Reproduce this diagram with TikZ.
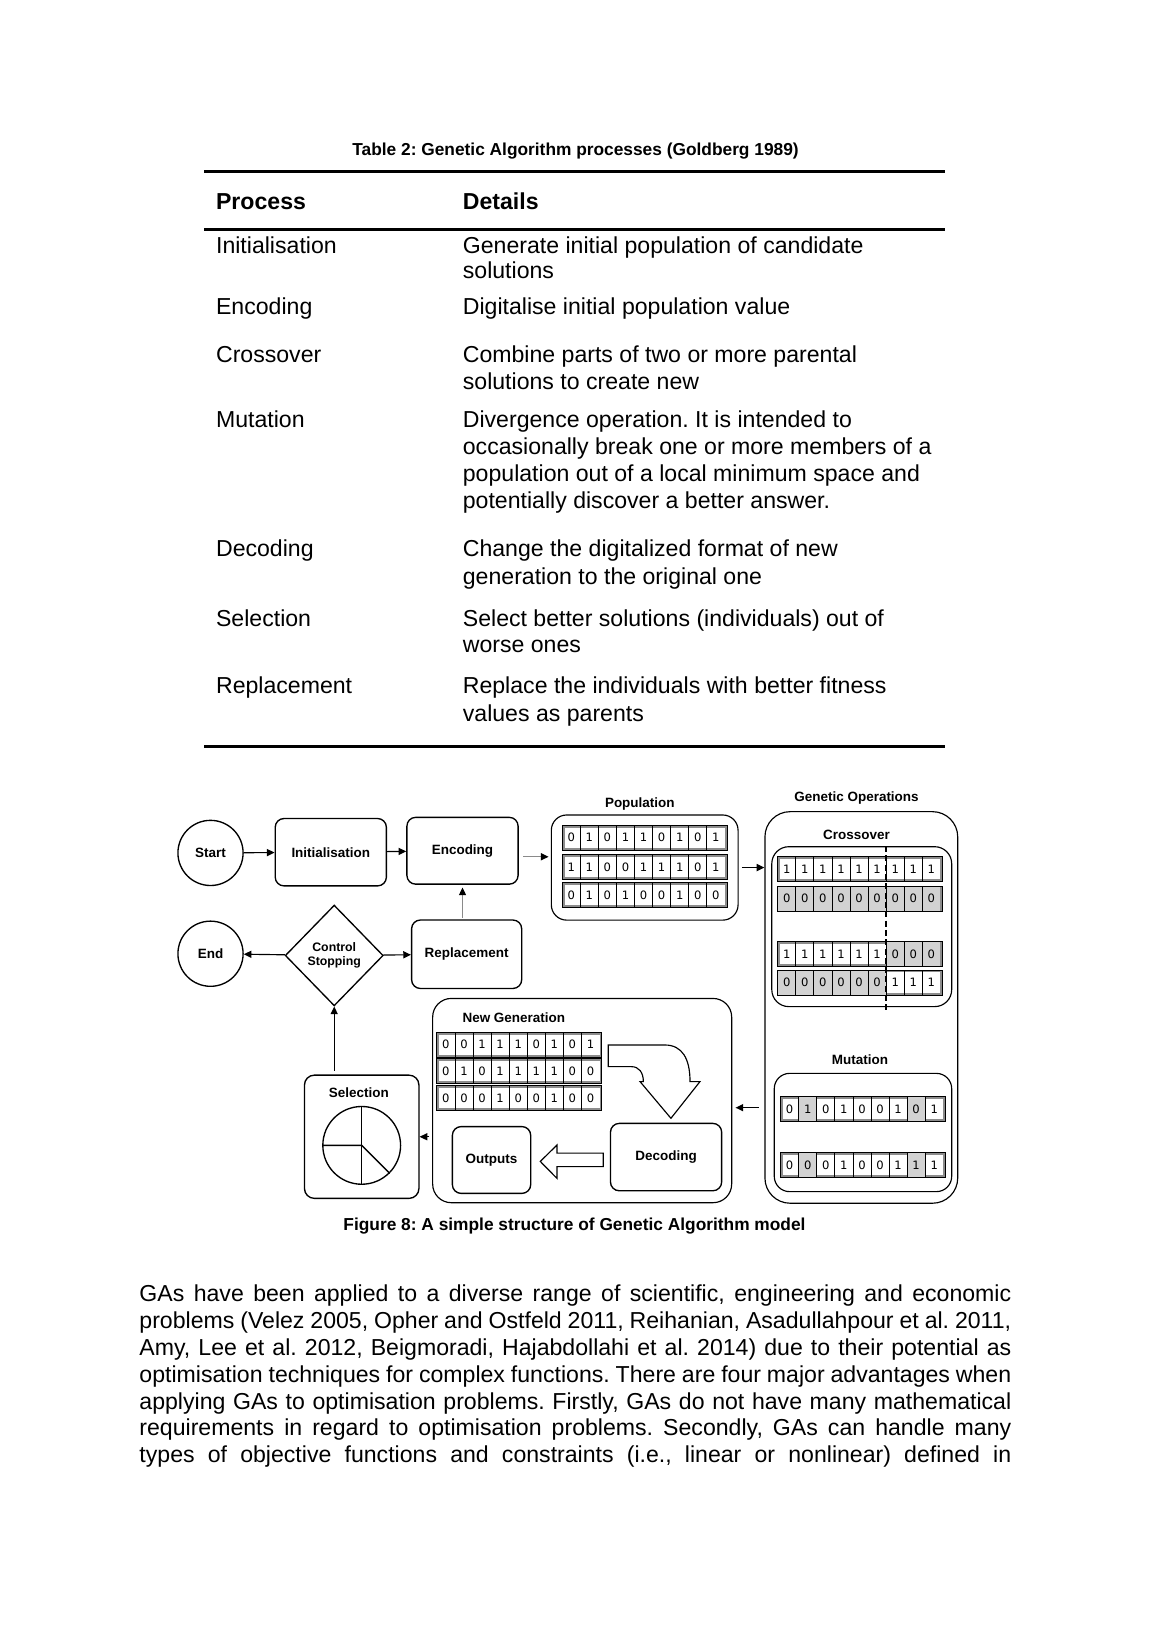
\documentclass[tikz,border=0pt]{standalone}
\usepackage{fontspec}
\setmainfont{Liberation Sans}
\newfontfamily\genefont{DejaVu Sans}
\usetikzlibrary{arrows.meta,shapes.geometric,positioning}
\definecolor{genegray}{HTML}{D2D2D2}
\definecolor{linkgray}{HTML}{8A8A8A}
\frenchspacing

\newcommand{\bodyfont}{\fontsize{12}{13.8}\selectfont}
\newcommand{\labelfont}{\fontsize{7}{8.4}\selectfont\bfseries}

% one chromosome: name, x, y, genes, shaded genes (0 = none)
\newcommand{\chrom}[5]{%
  \node[chromrow] (#1) at (#2,#3) {};
  \foreach \g in {#5}{\ifnum\g>0
    \fill[genegray] ([xshift={(\g-1)*3.3mm}]#1.north west) rectangle ([xshift={\g*3.3mm}]#1.south west);
  \fi}
  \foreach \b [count=\i] in {#4}{
    \node[gene] (#1g\i) at ([xshift={(\i-0.5)*3.3mm}]#1.west) {\b};
    \ifnum\i<9 \draw[line width=0.4pt] ([xshift={\i*3.3mm}]#1.north west) -- ([xshift={\i*3.3mm}]#1.south west);\fi
  }
  \draw[line width=0.4pt] (#1.north west) rectangle (#1.south east);
}

\begin{document}
\begin{tikzpicture}[x=0.18936mm, y=-0.18936mm,
    body/.style={font=\bodyfont, inner sep=0, anchor=base west},
    stage/.style={draw, rounded corners=1.6mm, line width=0.7pt, font=\labelfont, align=center, inner sep=0},
    terminal/.style={circle, draw, line width=0.7pt, minimum size=11.9mm, inner sep=0, font=\labelfont},
    decision/.style={diamond, draw, line width=0.7pt, minimum width=17.9mm, minimum height=18.4mm, inner sep=0,
                     align=center, font=\fontsize{6.4}{7.4}\selectfont\bfseries},
    group/.style={draw, line width=0.6pt, inner sep=0},
    tag/.style={font=\labelfont, inner sep=0},
    chromrow/.style={draw=black!45, line width=1.2pt, fill=white, minimum width=29.7mm, minimum height=4.1mm, inner sep=0},
    gene/.style={font=\genefont\fontsize{6}{7}\selectfont, inner sep=0},
    flow/.style={-{Triangle[length=1.4mm,width=1.3mm]}, line width=0.6pt},
    gflow/.style={-{Triangle[length=1.4mm,width=1.3mm,black]}, draw=linkgray, line width=0.6pt},
    hollow/.style={draw, line width=0.6pt, fill=white, line join=miter},
    rule/.style={line width=1.5pt}
]
\useasboundingbox (0,0) rectangle (1109,1568);
\fill[white] (0,0) rectangle (1109,1568);

% table
\node[font=\fontsize{9}{11}\selectfont\bfseries, inner sep=0, anchor=base] (tcap) at (555,150) {Table 2: Genetic Algorithm processes (Goldberg 1989)};
\draw[rule] (197,165) -- (911,165);
\draw[rule] (197,221) -- (911,221);
\draw[rule] (197,720) -- (911,720);
\node[body, font=\bodyfont\bfseries] (hproc) at (208,202) {Process};
\node[body, font=\bodyfont\bfseries] (hdet) at (446,202) {Details};
\foreach \yy/\txt [count=\i] in {244/Initialisation, 303/Encoding, 350/Crossover, 412/Mutation,
    537/Decoding, 604/Selection, 669/Replacement}
  \node[body] (row\i) at (208,\yy) {\txt};
\foreach \yy/\txt [count=\i] in {244/Generate initial population of candidate, 269/solutions,
    303/Digitalise initial population value,
    350/Combine parts of two or more parental, 376/solutions to create new,
    412/Divergence operation. It is intended to, 438/occasionally break one or more members of a,
    464/population out of a local minimum space and, 490/potentially discover a better answer.,
    537/Change the digitalized format of new, 564/generation to the original one,
    604/Select better solutions (individuals) out of, 629/worse ones,
    669/Replace the individuals with better fitness, 696/values as parents}
  \node[body] (det\i) at (446,\yy) {\txt};

% figure: main loop
\node[terminal] (start) at (203,822.5) {Start};
\node[stage, minimum width=20.3mm, minimum height=12.3mm] (init) at (319,821.8) {Initialisation};
\node[stage, minimum width=20.3mm, minimum height=12.2mm] (enc) at (446,820.4) {Encoding};
\node[terminal] (end) at (203,919.7) {End};
\node[decision] (ctrl) at (322.3,921.4) {Control\\Stopping};
\node[stage, minimum width=20.1mm, minimum height=12.5mm] (repl) at (450,920.2) {Replacement};

% population
\node[tag] (poplbl) at (617,775.3) {Population};
\node[group, rounded corners=2.8mm, minimum width=34.1mm, minimum height=19.2mm] (pop) at (621.7,836.6) {};
\chrom{pa}{621.7}{807.7}{0,1,0,1,1,0,1,0,1}{0}
\chrom{pb}{621.7}{836}{1,1,0,0,1,1,1,0,1}{0}
\chrom{pc}{621.7}{863.3}{0,1,0,1,0,0,1,0,0}{0}

% genetic operations
\node[tag] (opslbl) at (826,770) {Genetic Operations};
\node[group, rounded corners=4.6mm, minimum width=35.2mm, minimum height=71.5mm] (genops) at (830.6,971.5) {};
\node[tag] (crosslbl) at (826,805.2) {Crossover};
\node[group, rounded corners=3.1mm, minimum width=32.85mm, minimum height=29.2mm] (cross) at (831,893.6) {};
\chrom{ca}{829.5}{838.2}{1,1,1,1,1,1,1,1,1}{0}
\chrom{cb}{829.5}{866.5}{0,0,0,0,0,0,0,0,0}{1,2,3,4,5,6,7,8,9}
\chrom{cc}{829.5}{919.8}{1,1,1,1,1,1,0,0,0}{7,8,9}
\chrom{cd}{829.5}{947.5}{0,0,0,0,0,0,1,1,1}{1,2,3,4,5,6}
\draw[line width=0.9pt, dash pattern=on 1.1mm off 0.6mm]
  ([xshift=19.8mm]ca.west |- cross.north) -- ([xshift=19.8mm,yshift=-0.6mm]ca.west |- cross.south);
\node[tag] (mutlbl) at (829.3,1022.2) {Mutation};
\node[group, rounded corners=2.8mm, minimum width=32.4mm, minimum height=21.6mm] (mut) at (832.2,1092.1) {};
\chrom{ma}{832.3}{1069.6}{0,1,0,1,0,0,1,0,1}{2,8}
\chrom{mb}{832.3}{1123.5}{0,0,0,1,0,0,1,1,1}{2,8}

% new generation
\node[group, rounded corners=3.4mm, minimum width=54.6mm, minimum height=37.3mm] (newgen) at (561.4,1061.3) {};
\node[tag] (nglbl) at (495.5,981) {New Generation};
\chrom{na}{500.8}{1007.4}{0,0,1,1,1,0,1,0,1}{0}
\chrom{nb}{500.8}{1033}{0,1,0,1,1,1,1,0,0}{0}
\chrom{nc}{500.8}{1058.7}{0,0,0,1,0,0,1,0,0}{0}
\node[stage, minimum width=20.3mm, minimum height=12.3mm] (dec) at (642.3,1115.8) {Decoding};
\node[stage, minimum width=14.3mm, minimum height=12.2mm] (out) at (474,1118.6) {Outputs};
\draw[hollow] (586.6,1007.7) -- (641,1007.7) .. controls (658,1007.7) and (665.4,1021) .. (665.4,1043)
  -- (675,1043) -- (647,1078.4) -- (617.2,1043) -- (620.4,1043)
  .. controls (620.4,1034) and (616,1028.6) .. (609,1028.6) -- (586.6,1028.6) -- cycle;
\draw[hollow] (581.7,1112) -- (537.1,1112) -- (537.1,1104.2) -- (521,1120) -- (537.1,1136.3)
  -- (537.1,1125) -- (581.7,1125) -- cycle;

% selection
\node[stage, rounded corners=1.8mm, minimum width=20.9mm, minimum height=22.5mm] (sel) at (348.8,1096.2) {};
\node[tag] (sellbl) at (346,1053.4) {Selection};
\node[circle, draw, line width=0.7pt, minimum size=14.2mm, inner sep=0] (pie) at (348.8,1104.5) {};
\draw[line width=0.7pt] (pie.north) -- (pie.south);
\draw[line width=0.7pt] (pie.west) -- (pie.center) -- (pie.-45);

% connectors
\draw[flow] (start) -- (init);
\draw[flow] (init) -- (enc);
\draw[gflow, shorten <=0.8mm, shorten >=0.4mm] ([yshift=-1.1mm]enc.east) -- ([yshift=-1.1mm]enc.east -| pop.west);
\draw[flow, shorten <=0.6mm] (pop.east) -- (pop.east -| genops.west);
\draw[flow, shorten <=1mm, shorten >=0.6mm] ([yshift=-1.3mm]newgen.east -| genops.west) -- ([yshift=-1.3mm]newgen.east);
\draw[flow, shorten <=0.5mm] (newgen.west |- sel.east) -- (sel.east);
\draw[flow, shorten <=0.7mm] (sel.north -| ctrl.south) -- (ctrl.south);
\draw[flow] (ctrl) -- (end);
\draw[flow] (ctrl) -- (repl);
\draw[gflow, shorten <=0.3mm, shorten >=0.5mm] (repl.north -| enc.south) -- (enc.south);

\node[font=\fontsize{9}{11}\selectfont\bfseries, inner sep=0, anchor=base] (fcap) at (554,1187) {Figure 8: A simple structure of Genetic Algorithm model};

% body text
\foreach \txt [count=\i] in {{GAs have been applied to a diverse range of scientific, engineering and economic},
    {problems (Velez 2005, Opher and Ostfeld 2011, Reihanian, Asadullahpour et al. 2011,},
    {Amy, Lee et al. 2012, Beigmoradi, Hajabdollahi et al. 2014) due to their potential as},
    {optimisation techniques for complex functions. There are four major advantages when},
    {applying GAs to optimisation problems. Firstly, GAs do not have many mathematical},
    {requirements in regard to optimisation problems. Secondly, GAs can handle many},
    {types of objective functions and constraints (i.e., linear or nonlinear) defined in}}
  \node[body] (line\i) at (134.1,{1255.5+(\i-1)*25.85}) {\makebox[159.2mm][s]{\txt}};
\end{tikzpicture}
\end{document}
